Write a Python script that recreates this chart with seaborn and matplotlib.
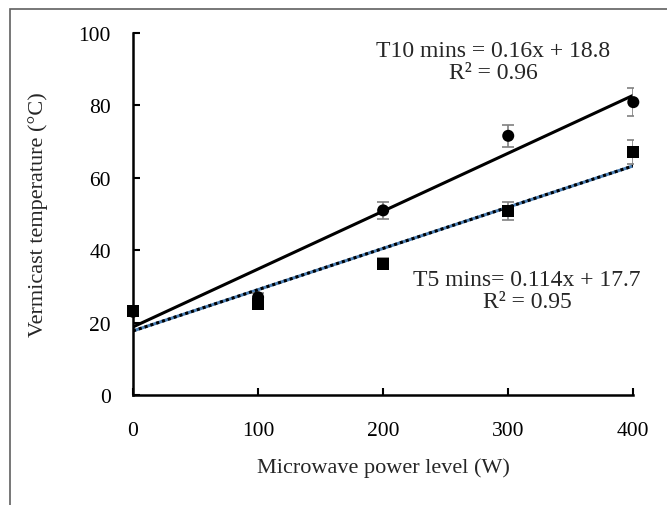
import numpy as np
import pandas as pd
import matplotlib
matplotlib.use("Agg")
import matplotlib.pyplot as plt
import seaborn as sns

# data
power = [0, 100, 200, 300, 400]
t10_temp = [23, 27, 51, 71.6, 80.9]
t10_err = [0.8, 1.2, 2.4, 3.1, 3.9]
t5_temp = [23.2, 25.2, 36.3, 50.8, 67.1]
t5_err = [0.8, 1.0, 1.6, 2.5, 3.4]

# fitted lines given on the chart
t10_fit = (0.16, 18.8)
t5_fit = (0.114, 17.7)

sns.set_theme(style="ticks")
plt.rcParams["font.family"] = ["Liberation Serif", "DejaVu Serif"]

df = pd.DataFrame({"power": power * 2,
                   "temp": t10_temp + t5_temp,
                   "series": ["T10"] * 5 + ["T5"] * 5})

fig = plt.figure(figsize=(6.67, 5.06), dpi=100)
ax = fig.add_axes([0.1994, 0.2174, 0.7501, 0.7154])

# outer frame (only left and top visible in the original)
fig.patches.append(plt.Rectangle((10 / 667, -0.1), 1.2, (506 - 10) / 506 + 0.1,
                                 transform=fig.transFigure, fill=False,
                                 edgecolor="#606060", lw=1.2))

xs = np.array([0, 400])
ax.plot(xs, t5_fit[0] * xs + t5_fit[1], color="#4a7fb5", lw=2.2, zorder=2)
ax.plot(xs, t5_fit[0] * xs + t5_fit[1], color="black", lw=2.2, ls=(0, (1, 1)), zorder=2)
ax.plot(xs, t10_fit[0] * xs + t10_fit[1], color="black", lw=2.2, zorder=2)

ax.errorbar(power, t10_temp, yerr=t10_err, fmt="none", ecolor="#808080",
            elinewidth=1.2, capsize=4, capthick=1.2, zorder=3)
ax.errorbar(power, t5_temp, yerr=t5_err, fmt="none", ecolor="#808080",
            elinewidth=1.2, capsize=4, capthick=1.2, zorder=3)

sns.scatterplot(data=df, x="power", y="temp", style="series",
                markers={"T10": "o", "T5": "s"}, color="black", s=75,
                edgecolor="black", linewidth=0, legend=False, ax=ax,
                zorder=4, clip_on=False)

ax.set_xlim(0, 400)
ax.set_ylim(0, 100)
ax.set_xticks([0, 100, 200, 300, 400])
ax.set_yticks([0, 20, 40, 60, 80, 100])
ax.tick_params(axis="both", direction="in", length=5, width=1.5,
               labelsize=15.5, color="black", labelcolor="black")
ax.tick_params(axis="x", pad=19)
ax.tick_params(axis="y", pad=16)
for side in ["top", "right"]:
    ax.spines[side].set_visible(False)
for side in ["left", "bottom"]:
    ax.spines[side].set_linewidth(1.8)
    ax.spines[side].set_color("black")

ax.set_xlabel("Microwave power level (W)", fontsize=16, labelpad=12)
ax.set_ylabel("Vermicast temperature (\u00b0C)", fontsize=16, labelpad=22)

ax.text(288, 92.1, "T10 mins = 0.16x + 18.8\nR\u00b2 = 0.96", fontsize=17,
        ha="center", va="center", multialignment="center", linespacing=1.05)
ax.text(315, 28.9, "T5 mins= 0.114x + 17.7\nR\u00b2 = 0.95", fontsize=17,
        ha="center", va="center", multialignment="center", linespacing=1.05)

fig.savefig("out.png", dpi=100)
